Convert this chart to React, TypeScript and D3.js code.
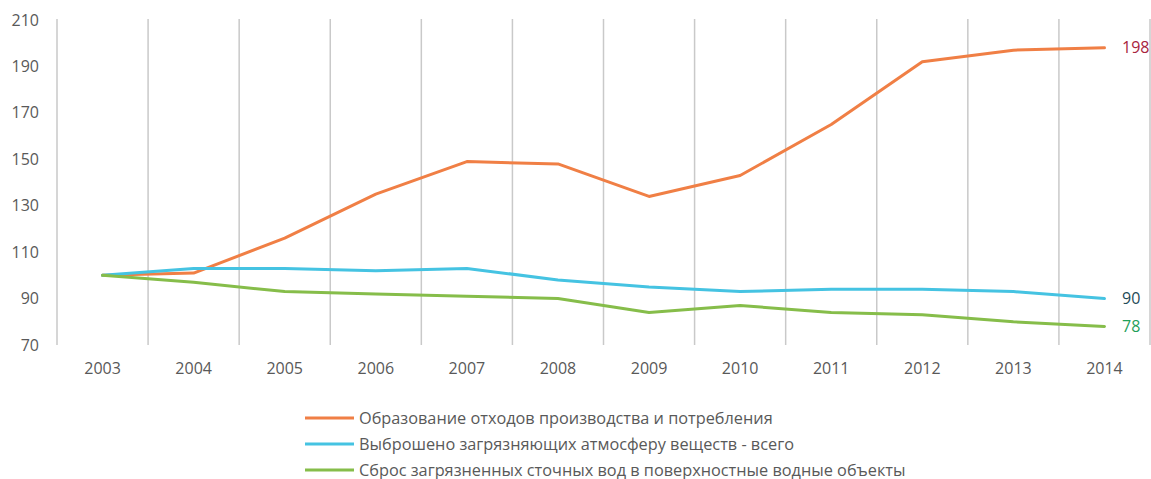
import React from "react";
import * as d3 from "d3";

const years = ["2003","2004","2005","2006","2007","2008","2009","2010","2011","2012","2013","2014"];
const wasteValues = [100, 101, 116, 135, 149, 148, 134, 143, 165, 192, 197, 198];
const airValues = [100, 103, 103, 102, 103, 98, 95, 93, 94, 94, 93, 90];
const waterValues = [100, 97, 93, 92, 91, 90, 84, 87, 84, 83, 80, 78];
const yTicks = [70, 90, 110, 130, 150, 170, 190, 210];
const seriesNames = [
  "Образование отходов производства и потребления",
  "Выброшено загрязняющих атмосферу веществ - всего",
  "Сброс загрязненных сточных вод в поверхностные водные объекты",
];
const seriesColors = ["#F07F45", "#45C3E2", "#86BD4A"];
const endLabelColors = ["#A8243E", "#1F4A57", "#1FA05A"];

const W = 1151, H = 479;
const FONT = "'Open Sans', 'Noto Sans', sans-serif";

export default function App() {
  const x = d3.scaleBand<string>().domain(years).range([57, 1150]);
  const y = d3.scaleLinear().domain([70, 210]).range([345, 20]);
  const all = [wasteValues, airValues, waterValues];
  const line = d3.line<number>()
    .x((_, i) => (x(years[i]) as number) + x.bandwidth() / 2)
    .y((d) => y(d));
  const boundaries = d3.range(years.length + 1).map((i) => 57 + i * x.bandwidth());
  return (
    <svg width={W} height={H} style={{ position: "absolute", left: 0, top: 0, background: "#fff" }} fontFamily={FONT}>
      <rect width={W} height={H} fill="#fff" />
      {boundaries.map((bx, i) => (
        <line key={i} x1={bx} x2={bx} y1={y(210) - 1} y2={y(70)} stroke="#C9C9C9" strokeWidth={1.5} />
      ))}
      {yTicks.map((t) => (
        <text key={t} x={39} y={y(t)} dy="0.35em" textAnchor="end" fontSize={16} fill="#595959">{t}</text>
      ))}
      {years.map((yr) => (
        <text key={yr} x={(x(yr) as number) + x.bandwidth() / 2} y={374} textAnchor="middle" fontSize={16} fill="#595959">{yr}</text>
      ))}
      {all.map((vals, i) => (
        <path key={i} d={line(vals) || ""} fill="none" stroke={seriesColors[i]} strokeWidth={3} strokeLinejoin="round" strokeLinecap="round" />
      ))}
      {all.map((vals, i) => (
        <text key={"e" + i} x={1122} y={y(vals[vals.length - 1])} dy="0.35em" fontSize={16} fill={endLabelColors[i]}>{vals[vals.length - 1]}</text>
      ))}
      {seriesNames.map((n, i) => (
        <g key={n} transform={`translate(0, ${418 + i * 26})`}>
          <line x1={305} x2={354} y1={0} y2={0} stroke={seriesColors[i]} strokeWidth={3} />
          <text x={359} y={0} dy="0.35em" fontSize={16.3} fill="#595959">{n}</text>
        </g>
      ))}
    </svg>
  );
}
